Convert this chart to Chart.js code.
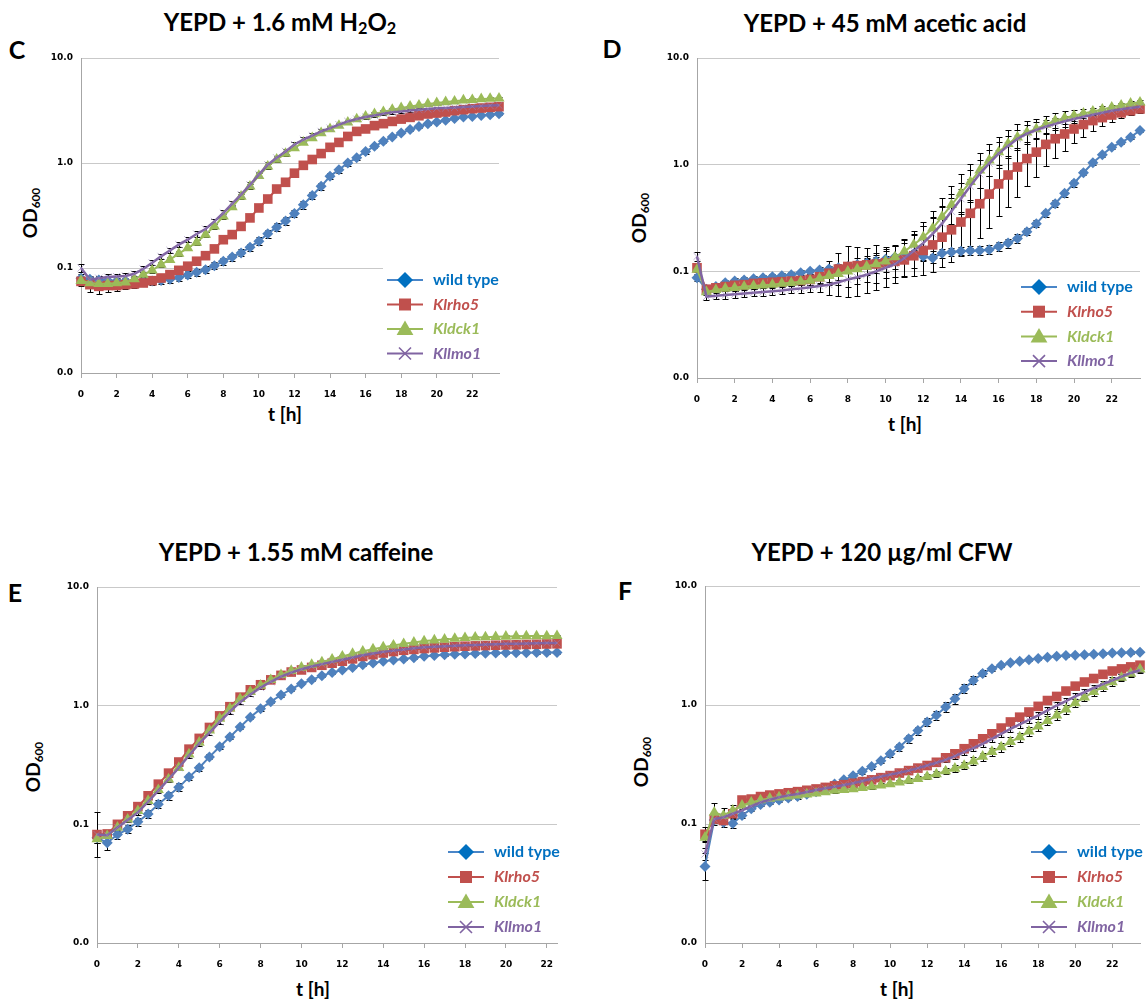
<!DOCTYPE html>
<html>
<head>
<meta charset="utf-8">
<script src="https://cdn.jsdelivr.net/npm/chart.js@4.4.1/dist/chart.umd.min.js"></script>
<style>
  html, body { margin: 0; padding: 0; background: #fff; }
  body { width: 1147px; height: 1001px; position: relative; overflow: hidden; font-family: Lato, "Open Sans", sans-serif; color: #000; }
  canvas { position: absolute; }
  .t { position: absolute; transform: translate(-50%, -50%); white-space: nowrap; font-weight: 700; line-height: 1; }
  .title { font-size: 24px; }
  .title sub { font-size: 0.68em; vertical-align: -0.2em; }
  .letter { font-size: 25px; }
  .ytitle { font-size: 19px; transform: translate(-50%, -50%) rotate(-90deg); }
  .ytitle sub { font-size: 0.62em; vertical-align: -0.25em; }
  .xtitle { font-size: 19px; }
</style>
</head>
<body>
<div class="t title" style="left:280px;top:23px">YEPD + 1.6 mM H<sub>2</sub>O<sub>2</sub></div>
<div class="t title" style="left:885px;top:23px">YEPD + 45 mM acetic acid</div>
<div class="t title" style="left:296px;top:552px">YEPD + 1.55 mM caffeine</div>
<div class="t title" style="left:882px;top:552px">YEPD + 120 µg/ml CFW</div>
<div class="t letter" style="left:17px;top:49px">C</div>
<div class="t letter" style="left:612px;top:48px">D</div>
<div class="t letter" style="left:15px;top:592px">E</div>
<div class="t letter" style="left:625px;top:590px">F</div>
<div class="t ytitle" style="left:31px;top:213px">OD<sub>600</sub></div>
<div class="t ytitle" style="left:640px;top:218px">OD<sub>600</sub></div>
<div class="t ytitle" style="left:34px;top:767px">OD<sub>600</sub></div>
<div class="t ytitle" style="left:642px;top:762px">OD<sub>600</sub></div>
<div class="t xtitle" style="left:285px;top:413px">t [h]</div>
<div class="t xtitle" style="left:905px;top:423px">t [h]</div>
<div class="t xtitle" style="left:313px;top:988px">t [h]</div>
<div class="t xtitle" style="left:897px;top:988px">t [h]</div>

<script>
// ---- sampling times (h) ----
const hours48 = [0,0.5,1,1.5,2,2.5,3,3.5,4,4.5,5,5.5,6,6.5,7,7.5,8,8.5,9,9.5,10,10.5,11,11.5,
                 12,12.5,13,13.5,14,14.5,15,15.5,16,16.5,17,17.5,18,18.5,19,19.5,20,20.5,21,21.5,22,22.5,23,23.5];
const hours46 = [0,0.5,1,1.5,2,2.5,3,3.5,4,4.5,5,5.5,6,6.5,7,7.5,8,8.5,9,9.5,10,10.5,11,11.5,
                 12,12.5,13,13.5,14,14.5,15,15.5,16,16.5,17,17.5,18,18.5,19,19.5,20,20.5,21,21.5,22,22.5];
const hourTicks = [0,2,4,6,8,10,12,14,16,18,20,22];
const odTicks = [0.01,0.1,1,10];
const strains = ['wild type','Klrho5','Kldck1','Kllmo1'];

// ---- C: YEPD + 1.6 mM H2O2 (mean OD600) ----
const wtC   = [0.080,0.078,0.077,0.076,0.075,0.075,0.075,0.074,0.075,0.076,0.078,0.081,0.086,0.091,0.096,0.105,0.116,0.127,0.139,0.158,0.180,0.212,0.245,0.280,
               0.330,0.400,0.490,0.600,0.746,0.864,1.00,1.12,1.29,1.44,1.61,1.77,1.93,2.08,2.23,2.37,2.46,2.55,2.66,2.74,2.78,2.84,2.88,2.95];
const rho5C = [0.0746,0.0694,0.0669,0.0681,0.0681,0.0694,0.0705,0.072,0.0757,0.0803,0.0865,0.095,0.104,0.116,0.131,0.152,0.186,0.208,0.249,0.300,0.373,0.454,0.565,0.655,
               0.80,0.95,1.08,1.23,1.41,1.57,1.79,2.00,2.11,2.27,2.37,2.49,2.62,2.72,2.82,2.93,2.99,3.06,3.15,3.22,3.29,3.34,3.39,3.44];
const dck1C = [0.0757,0.072,0.0708,0.0708,0.072,0.073,0.0785,0.0865,0.095,0.108,0.12,0.137,0.155,0.175,0.208,0.249,0.31,0.38,0.48,0.60,0.757,0.93,1.08,1.23,
               1.39,1.57,1.73,1.93,2.11,2.27,2.44,2.62,2.78,2.93,3.06,3.22,3.34,3.46,3.54,3.65,3.73,3.81,3.87,3.96,4.0,4.07,4.1,4.13];
const lmo1C = [0.100,0.0775,0.080,0.082,0.083,0.084,0.088,0.098,0.112,0.129,0.147,0.167,0.186,0.211,0.235,0.278,0.334,0.41,0.50,0.62,0.774,0.964,1.12,1.29,
               1.50,1.67,1.82,2.00,2.15,2.32,2.49,2.62,2.74,2.84,2.95,3.04,3.10,3.17,3.22,3.27,3.32,3.34,3.37,3.42,3.46,3.49,3.52,3.54];
// spread (%) of replicate measurements
const wtC_sd   = [10,8,8,8,8,8,8,8,8,8,8,8, 8,8,8,8,8,8,8,8,9,9,9,9, 9,9,8,8,7,7,6,6,5,4,4,3, 3,3,3,2,2,2,2,2,2,2,2,2];
const rho5C_sd = [10,18,18,15,12,10,9,8,8,7,7,6, 6,6,6,6,6,6,6,6,6,6,6,5, 5,5,5,5,4,4,4,4,4,3,3,3, 3,3,3,3,3,3,3,3,3,3,3,3];
const dck1C_sd = [6,5,5,5,5,5,5,5,5,5,5,5, 5,5,5,5,5,5,5,5,5,5,5,5, 4,4,4,4,4,4,4,4,4,4,4,4, 3,3,3,3,3,3,3,3,3,3,3,3];
const lmo1C_sd = [8,6,6,6,6,6,6,6,6,6,6,6, 6,6,6,6,6,6,6,6,5,5,5,5, 5,5,5,5,4,4,4,4,4,4,4,4, 3,3,3,3,3,3,3,3,3,3,3,3];

// ---- D: YEPD + 45 mM acetic acid ----
const wtD   = [0.087,0.068,0.072,0.078,0.081,0.083,0.085,0.087,0.089,0.091,0.093,0.097,0.100,0.103,0.105,0.108,0.111,0.116,0.120,0.125,0.130,0.136,0.143,0.146,
               0.138,0.133,0.148,0.152,0.154,0.156,0.157,0.159,0.171,0.184,0.203,0.235,0.28,0.35,0.43,0.54,0.67,0.84,1.04,1.24,1.46,1.62,1.81,2.09];
const rho5D = [0.108,0.068,0.070,0.072,0.074,0.075,0.077,0.078,0.079,0.080,0.081,0.082,0.084,0.089,0.096,0.105,0.111,0.113,0.115,0.117,0.120,0.124,0.128,0.140,
               0.157,0.177,0.209,0.245,0.29,0.35,0.43,0.53,0.66,0.80,0.95,1.14,1.31,1.55,1.75,1.94,2.16,2.38,2.59,2.76,2.92,3.06,3.20,3.33];
const dck1D = [0.104,0.064,0.067,0.069,0.070,0.072,0.073,0.074,0.075,0.077,0.078,0.080,0.082,0.086,0.091,0.095,0.100,0.105,0.111,0.117,0.124,0.136,0.154,0.178,
               0.209,0.253,0.325,0.42,0.54,0.69,0.885,1.10,1.31,1.57,1.81,2.01,2.16,2.38,2.59,2.74,2.88,3.02,3.16,3.30,3.45,3.60,3.75,3.84];
const lmo1D = [0.138,0.058,0.059,0.060,0.061,0.062,0.063,0.064,0.065,0.066,0.068,0.069,0.071,0.073,0.075,0.079,0.084,0.088,0.093,0.100,0.108,0.117,0.133,0.155,
               0.184,0.225,0.28,0.365,0.48,0.63,0.82,1.03,1.27,1.50,1.75,1.95,2.12,2.27,2.41,2.55,2.68,2.81,2.94,3.07,3.20,3.30,3.40,3.49];
const wtD_sd   = [8,6,6,6,6,6,6,6,6,6,6,6, 6,6,8,8,8,8,8,8,8,8,8,8, 10,10,10,10,10,10,10,10,10,10,10,8, 8,8,8,8,8,6,5,4,4,4,4,4];
const rho5D_sd = [5,8,10,10,10,10,10,10,10,10,10,10, 12,15,30,40,55,50,45,50,40,40,45,55, 70,80,90,100,105,110,110,110,100,100,90,80, 70,60,50,45,35,30,25,20,15,12,10,8];
const dck1D_sd = [6,6,6,6,6,6,6,6,6,6,6,8, 10,12,15,15,18,20,20,22,25,28,30,35, 40,45,50,50,50,48,45,42,40,36,32,28, 24,20,18,15,12,10,8,8,6,6,6,6];
const lmo1D_sd = [10,8,8,8,8,8,8,8,8,8,8,10, 12,15,25,35,45,50,50,50,50,50,48,45, 45,45,45,45,40,40,36,32,28,25,22,20, 18,16,14,12,10,8,8,6,6,6,6,6];

// ---- E: YEPD + 1.55 mM caffeine ----
const wtE   = [0.077,0.070,0.082,0.091,0.105,0.122,0.148,0.174,0.205,0.25,0.30,0.37,0.45,0.545,0.66,0.80,0.94,1.08,1.23,1.38,1.53,1.65,1.79,1.90,
               2.00,2.10,2.21,2.29,2.37,2.42,2.47,2.54,2.61,2.65,2.68,2.71,2.73,2.75,2.77,2.78,2.79,2.79,2.79,2.80,2.80,2.80];
const rho5E = [0.082,0.083,0.100,0.118,0.141,0.174,0.218,0.27,0.335,0.43,0.53,0.655,0.82,0.98,1.18,1.36,1.50,1.65,1.80,1.92,2.00,2.10,2.19,2.28,
               2.37,2.48,2.60,2.69,2.78,2.86,2.93,2.98,3.03,3.07,3.11,3.14,3.17,3.19,3.21,3.23,3.25,3.26,3.28,3.29,3.31,3.32];
const dck1E = [0.075,0.080,0.094,0.110,0.130,0.158,0.195,0.24,0.30,0.39,0.49,0.62,0.78,0.95,1.14,1.31,1.48,1.65,1.82,1.97,2.10,2.22,2.33,2.46,
               2.60,2.74,2.87,2.99,3.11,3.22,3.32,3.41,3.50,3.56,3.61,3.67,3.73,3.76,3.78,3.80,3.83,3.84,3.86,3.86,3.86,3.87];
const lmo1E = [0.082,0.081,0.094,0.109,0.126,0.155,0.192,0.24,0.30,0.38,0.48,0.59,0.73,0.89,1.07,1.24,1.42,1.59,1.76,1.90,2.03,2.14,2.24,2.34,
               2.44,2.55,2.66,2.75,2.84,2.91,2.97,3.04,3.11,3.14,3.17,3.20,3.23,3.25,3.28,3.30,3.32,3.33,3.34,3.36,3.37,3.38];
const wtE_sd   = [10,15,8,8,8,8,8,8,8,6,6,5, 5,5,4,4,4,3,3,3,3,3,3,3, 2,2,2,2,2,2,2,2,2,2,2,2, 2,2,2,2,2,2,2,2,2,2];
const rho5E_sd = [55,6,5,5,5,5,5,4,4,4,4,4, 3,3,3,3,3,3,3,3,3,3,3,3, 2,2,2,2,2,2,2,2,2,2,2,2, 2,2,2,2,2,2,2,2,2,2];
const dck1E_sd = [8,5,4,4,4,4,4,4,4,4,4,3, 3,3,3,3,3,3,3,3,3,3,2,2, 2,2,2,2,2,2,2,2,2,2,2,2, 2,2,2,2,2,2,2,2,2,2];
const lmo1E_sd = [8,6,5,5,5,5,5,5,5,5,5,4, 4,4,4,3,3,3,3,3,3,3,3,3, 2,2,2,2,2,2,2,2,2,2,2,2, 2,2,2,2,2,2,2,2,2,2];

// ---- F: YEPD + 120 µg/ml CFW ----
const wtF   = [0.044,0.108,0.103,0.101,0.118,0.134,0.146,0.152,0.159,0.165,0.170,0.178,0.187,0.200,0.217,0.235,0.254,0.278,0.304,0.34,0.389,0.443,0.52,0.61,
               0.72,0.82,0.96,1.13,1.37,1.61,1.84,2.02,2.16,2.26,2.33,2.40,2.46,2.52,2.57,2.60,2.62,2.65,2.67,2.70,2.73,2.75,2.76,2.78];
const rho5F = [0.082,0.110,0.107,0.122,0.159,0.162,0.170,0.175,0.179,0.183,0.187,0.192,0.197,0.203,0.209,0.214,0.220,0.227,0.235,0.245,0.255,0.268,0.281,0.295,
               0.310,0.330,0.360,0.389,0.429,0.472,0.52,0.573,0.64,0.72,0.79,0.873,0.974,1.09,1.18,1.31,1.44,1.56,1.67,1.81,1.93,2.01,2.09,2.16];
const dck1F = [0.077,0.125,0.118,0.130,0.143,0.152,0.159,0.164,0.168,0.171,0.174,0.178,0.181,0.186,0.191,0.194,0.197,0.201,0.206,0.211,0.217,0.224,0.232,0.240,
               0.250,0.263,0.278,0.293,0.310,0.337,0.369,0.405,0.443,0.49,0.537,0.60,0.661,0.735,0.818,0.92,1.04,1.16,1.29,1.42,1.56,1.70,1.84,2.00];
const lmo1F = [0.056,0.110,0.114,0.122,0.130,0.141,0.152,0.160,0.168,0.174,0.179,0.186,0.193,0.200,0.206,0.213,0.220,0.230,0.240,0.250,0.260,0.270,0.281,0.295,
               0.310,0.327,0.346,0.372,0.402,0.435,0.472,0.52,0.573,0.63,0.687,0.75,0.818,0.90,0.99,1.08,1.18,1.28,1.39,1.50,1.61,1.73,1.86,1.96];
const wtF_sd   = [30,10,10,10,6,5,4,4,4,4,4,4, 4,4,4,4,4,5,5,5,6,7,8,8, 9,9,10,10,9,8,6,5,3,3,2,2, 2,2,2,2,2,2,2,2,2,2,2,2];
const rho5F_sd = [15,8,6,5,4,4,3,3,3,3,3,3, 3,3,3,3,3,3,3,3,3,3,3,3, 3,3,3,3,4,4,4,4,4,4,4,4, 4,4,4,4,4,4,4,4,4,4,4,4];
const dck1F_sd = [10,20,15,12,6,5,4,4,4,4,4,4, 4,4,4,4,4,4,4,4,4,4,5,5, 5,6,6,7,7,8,8,8,9,9,9,9, 9,9,9,9,8,8,8,8,7,7,7,6];
const lmo1F_sd = [12,8,8,8,6,5,4,4,4,4,4,4, 4,4,4,4,4,4,4,4,4,4,4,4, 5,5,5,5,6,6,6,6,7,7,7,7, 7,7,7,7,6,6,6,6,6,6,6,6];

// ---- drawing styles per strain ----
const styles = [
  { line: '#4F81BD', fill: '#4F81BD', point: 'rectRot', r: 5.5, legFill: '#0070C0', legLine: '#4A86C8', text: '#0070C0', italic: false },
  { line: '#C0504D', fill: '#C0504D', point: 'rect', r: 6.8, legFill: '#C0504D', legLine: '#C0504D', text: '#C0504D', italic: true },
  { line: '#9BBB59', fill: '#9BBB59', point: 'triangle', r: 6.4, legFill: '#9BBB59', legLine: '#9BBB59', text: '#9BBB59', italic: true },
  { line: '#8064A2', fill: 'rgba(150,130,185,0.55)', point: 'crossRot', r: 5, legFill: '#8064A2', legLine: '#8064A2', text: '#8064A2', italic: true }
];

const panels = [
  { hours: hours48, xMax: 23.5, series: [wtC, rho5C, dck1C, lmo1C], sd: [wtC_sd, rho5C_sd, dck1C_sd, lmo1C_sd],
    area: { l: 81, t: 58, r: 499, b: 373 }, legend: { x: 433, y: 280, step: 24.5 } },
  { hours: hours48, xMax: 23.5, series: [wtD, rho5D, dck1D, lmo1D], sd: [wtD_sd, rho5D_sd, dck1D_sd, lmo1D_sd],
    area: { l: 697, t: 58, r: 1140, b: 378 }, legend: { x: 1067, y: 287, step: 24.7 } },
  { hours: hours46, xMax: 22.5, series: [wtE, rho5E, dck1E, lmo1E], sd: [wtE_sd, rho5E_sd, dck1E_sd, lmo1E_sd],
    area: { l: 97, t: 587, r: 557, b: 943 }, legend: { x: 494, y: 852, step: 25 } },
  { hours: hours48, xMax: 23.5, series: [wtF, rho5F, dck1F, lmo1F], sd: [wtF_sd, rho5F_sd, dck1F_sd, lmo1F_sd],
    area: { l: 705, t: 586, r: 1140, b: 943 }, legend: { x: 1077, y: 852, step: 25 } }
];

const YW = 72, PADT = 20, PADR = 80, XH = 30, PADB = 30;

// vertical error bars, drawn beneath the markers
const errorBars = {
  id: 'errorBars',
  beforeDatasetsDraw(chart) {
    const { ctx, scales: { x, y } } = chart;
    ctx.save();
    ctx.strokeStyle = '#000';
    ctx.lineWidth = 1;
    chart.data.datasets.forEach(ds => {
      if (!ds.spread) return;
      ds.data.forEach((p, i) => {
        const f = 1 + ds.spread[i] / 100;
        const px = Math.round(x.getPixelForValue(p.x)) + 0.5;
        const yt = Math.round(y.getPixelForValue(p.y * f)) + 0.5;
        const yb = Math.round(y.getPixelForValue(p.y / f)) + 0.5;
        ctx.beginPath();
        ctx.moveTo(px, yt); ctx.lineTo(px, yb);
        ctx.moveTo(px - 3, yt); ctx.lineTo(px + 3, yt);
        ctx.moveTo(px - 3, yb); ctx.lineTo(px + 3, yb);
        ctx.stroke();
      });
    });
    ctx.restore();
  }
};

function marker(ctx, kind, cx, cy, r) {
  ctx.beginPath();
  if (kind === 'rectRot') {
    ctx.moveTo(cx, cy - r); ctx.lineTo(cx + r, cy); ctx.lineTo(cx, cy + r); ctx.lineTo(cx - r, cy); ctx.closePath(); ctx.fill();
  } else if (kind === 'rect') {
    ctx.rect(cx - r, cy - r, 2 * r, 2 * r); ctx.fill();
  } else if (kind === 'triangle') {
    ctx.moveTo(cx, cy - r * 1.05); ctx.lineTo(cx + r * 1.05, cy + r * 0.75); ctx.lineTo(cx - r * 1.05, cy + r * 0.75); ctx.closePath(); ctx.fill();
  } else {
    ctx.moveTo(cx - r, cy - r); ctx.lineTo(cx + r, cy + r);
    ctx.moveTo(cx + r, cy - r); ctx.lineTo(cx - r, cy + r); ctx.stroke();
  }
}

// legend with a line sample, marker and coloured strain name
const strainLegend = {
  id: 'strainLegend',
  afterDraw(chart, args, opts) {
    const ctx = chart.ctx;
    const lx = opts.x, ly = opts.y, st = opts.step;
    ctx.save();
    ctx.fillStyle = '#fff';
    ctx.fillRect(lx - 50, ly - 12, 124, st * 3 + 24);
    chart.data.datasets.forEach((ds, k) => {
      const s = styles[k];
      const cy = ly + k * st;
      ctx.strokeStyle = s.legLine; ctx.lineWidth = 2;
      ctx.beginPath(); ctx.moveTo(lx - 46, cy); ctx.lineTo(lx - 10, cy); ctx.stroke();
      ctx.fillStyle = s.legFill; ctx.strokeStyle = s.legFill; ctx.lineWidth = 1.6;
      const size = [8, 6, 8, 6][k];
      marker(ctx, s.point, lx - 28, cy, size);
      ctx.fillStyle = s.text;
      ctx.font = (s.italic ? 'italic ' : '') + '700 16px Lato, "Open Sans", sans-serif';
      ctx.textBaseline = 'middle';
      ctx.textAlign = 'left';
      ctx.fillText(ds.label, lx, cy);
    });
    ctx.restore();
  }
};

panels.forEach(p => {
  const a = p.area;
  const cv = document.createElement('canvas');
  const left = a.l - YW, top = a.t - PADT;
  const w = (a.r - a.l) + YW + PADR, h = (a.b - a.t) + PADT + XH + PADB;
  cv.width = w; cv.height = h;
  cv.style.left = left + 'px'; cv.style.top = top + 'px';
  cv.style.width = w + 'px'; cv.style.height = h + 'px';
  document.body.appendChild(cv);

  const datasets = p.series.map((vals, k) => {
    const s = styles[k];
    return {
      label: strains[k],
      data: p.hours.map((t, i) => ({ x: t, y: vals[i] })),
      spread: p.sd[k],
      order: 3 - k,
      borderColor: s.line,
      backgroundColor: s.fill,
      borderWidth: k === 3 ? 2.5 : 2,
      pointStyle: s.point,
      pointRadius: s.r,
      pointBackgroundColor: s.fill,
      pointBorderColor: k === 3 ? 'rgba(150,130,185,0.6)' : s.fill,
      pointBorderWidth: k === 3 ? 1 : 0,
      tension: 0,
      fill: false,
      clip: false
    };
  });

  new Chart(cv, {
    type: 'line',
    data: { datasets },
    plugins: [errorBars, strainLegend],
    options: {
      responsive: false,
      animation: false,
      devicePixelRatio: 1,
      events: [],
      layout: { padding: { left: 0, top: PADT, right: PADR, bottom: PADB } },
      plugins: {
        legend: { display: false },
        tooltip: { enabled: false },
        strainLegend: { x: p.legend.x - left, y: p.legend.y - top, step: p.legend.step }
      },
      scales: {
        x: {
          type: 'linear', min: 0, max: p.xMax,
          afterBuildTicks: sc => { sc.ticks = hourTicks.map(v => ({ value: v })); },
          afterFit: sc => { sc.height = XH; },
          grid: { drawOnChartArea: false, drawTicks: true, tickLength: 5, color: '#a6a6a6' },
          border: { display: true, color: '#a6a6a6', width: 1 },
          ticks: { padding: 11, color: '#000', font: { family: 'DejaVu Sans', size: 9, weight: 'bold' }, maxRotation: 0, autoSkip: false }
        },
        y: {
          type: 'logarithmic', min: 0.01, max: 10,
          afterBuildTicks: sc => { sc.ticks = odTicks.map(v => ({ value: v })); },
          afterFit: sc => { sc.width = YW; },
          grid: { color: '#c9c9c9', drawTicks: false, lineWidth: 1 },
          border: { display: true, color: '#a6a6a6', width: 1 },
          ticks: { padding: 8, color: '#000', font: { family: 'DejaVu Sans', size: 9, weight: 'bold' },
                   callback: v => Number(v).toFixed(1) }
        }
      }
    }
  });
});
</script>
</body>
</html>
